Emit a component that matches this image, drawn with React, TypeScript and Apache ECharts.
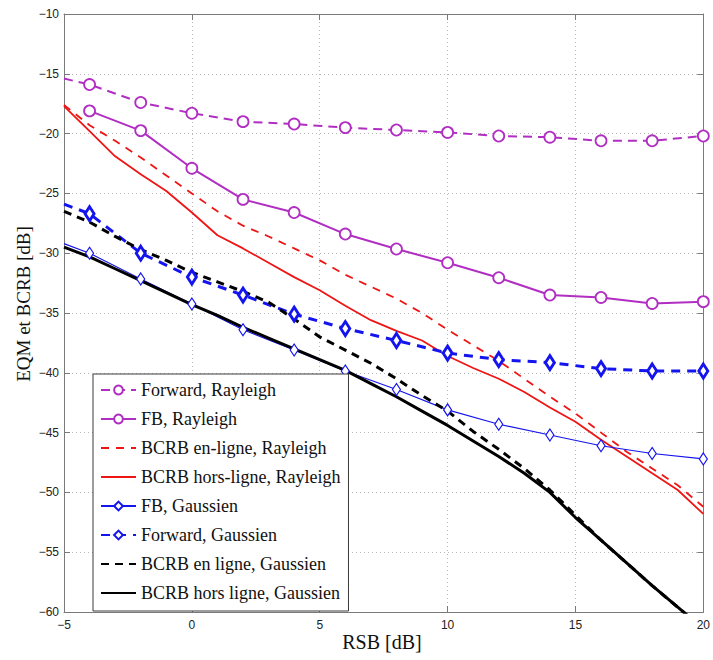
import React, { useEffect, useRef } from "react";
import * as echarts from "echarts";

// ---- data ----
const SNR_FULL = [-5, -4, -3, -2, -1, 0, 1, 2, 3, 4, 5, 6, 7, 8, 9, 10, 11, 12, 13, 14, 15, 16, 17, 18, 19, 20];
const SNR_MARK = [-5, -4, -2, 0, 2, 4, 6, 8, 10, 12, 14, 16, 18, 20];
const SNR_EVEN = [-4, -2, 0, 2, 4, 6, 8, 10, 12, 14, 16, 18, 20];

const forwardRayleigh = [-15.4, -15.9, -17.4, -18.3, -19.0, -19.2, -19.5, -19.7, -19.9, -20.2, -20.3, -20.6, -20.6, -20.2];
const fbRayleigh = [-18.1, -19.75, -22.9, -25.5, -26.6, -28.4, -29.65, -30.8, -32.05, -33.5, -33.7, -34.2, -34.05];
const bcrbEnLigneRayleigh = [-17.6, -19.3, -20.6, -22.0, -23.5, -25.0, -26.5, -27.7, -28.6, -29.6, -30.6, -31.8, -32.8, -33.8, -35.0, -36.4, -37.7, -39.0, -40.5, -42.0, -43.4, -45.0, -46.6, -48.0, -49.4, -51.2];
const bcrbHorsLigneRayleigh = [-17.7, -19.8, -21.9, -23.4, -24.8, -26.6, -28.5, -29.6, -30.8, -32.0, -33.1, -34.4, -35.6, -36.5, -37.3, -38.6, -39.6, -40.5, -41.6, -42.9, -44.1, -45.6, -47.0, -48.4, -49.8, -51.8];
const fbGaussien = [-29.2, -30.0, -32.15, -34.25, -36.4, -38.1, -39.85, -41.4, -43.1, -44.3, -45.2, -46.1, -46.75, -47.2];
const forwardGaussien = [-25.9, -26.7, -30.0, -32.0, -33.5, -35.1, -36.3, -37.3, -38.35, -38.9, -39.15, -39.65, -39.85, -39.85];
const bcrbEnLigneGaussien = [-26.5, -27.4, -28.6, -29.7, -30.6, -31.6, -32.4, -33.2, -34.1, -35.5, -37.0, -38.1, -39.2, -40.5, -41.9, -43.2, -44.9, -46.4, -48.0, -49.8, -51.9, -54.0, -55.9, -57.8, -59.6, -61.4];
const bcrbHorsLigneGaussien = [-29.5, -30.3, -31.3, -32.3, -33.3, -34.3, -35.2, -36.2, -37.1, -38.0, -38.9, -39.8, -40.9, -42.0, -43.2, -44.4, -45.7, -47.0, -48.4, -50.0, -52.1, -54.0, -55.9, -57.8, -59.6, -61.4];

const SERIES_NAMES = [
  "Forward, Rayleigh",
  "FB, Rayleigh",
  "BCRB en-ligne, Rayleigh",
  "BCRB hors-ligne, Rayleigh",
  "FB, Gaussien",
  "Forward, Gaussien",
  "BCRB en ligne, Gaussien",
  "BCRB hors ligne, Gaussien",
];
const NO_MARKER = [false, false, true, true, false, false, true, true];

const X_NAME = "RSB [dB]";
const Y_NAME = "EQM et BCRB [dB]";

const MAGENTA = "#b12ec2";
const RED = "#ee1515";
const BLUE = "#1414ee";
const BLACK = "#000000";

const SERIF = "Liberation Serif";
const SANS = "Liberation Sans";

function pairs(xs: number[], ys: number[], firstNoSymbol = false) {
  return ys.map((y, i) => {
    if (firstNoSymbol && i === 0) return { value: [xs[i], y], symbol: "none" };
    return { value: [xs[i], y] };
  });
}

function minusFmt(v: number) {
  return String(v).replace("-", "\u2212");
}

export default function App() {
  const ref = useRef<HTMLDivElement>(null);

  useEffect(() => {
    if (!ref.current) return;
    const chart = echarts.init(ref.current, undefined, { renderer: "svg" });

    const axisLine = { show: true, onZero: false, lineStyle: { color: "#7a7a7a", width: 1 } };
    const tickInside = { show: true, inside: true, length: 6, lineStyle: { color: "#7a7a7a" } };
    const gridLine = { show: true, lineStyle: { color: "#b8b8b8", type: [1, 3], width: 1 } };

    const option: any = {
      animation: false,
      backgroundColor: "#fff",
      grid: { left: 64, right: 8, top: 14, bottom: 48, containLabel: false },
      xAxis: [
        {
          type: "value",
          min: -5,
          max: 20,
          interval: 5,
          position: "bottom",
          axisLine,
          axisTick: tickInside,
          splitLine: gridLine,
          axisLabel: { formatter: minusFmt, fontFamily: SANS, fontSize: 12, color: "#222", margin: 7 },
        },
        {
          type: "value",
          min: -5,
          max: 20,
          interval: 5,
          position: "top",
          axisLine,
          axisTick: tickInside,
          splitLine: { show: false },
          axisLabel: { show: false },
        },
      ],
      yAxis: [
        {
          type: "value",
          min: -60,
          max: -10,
          interval: 5,
          position: "left",
          axisLine,
          axisTick: tickInside,
          splitLine: gridLine,
          axisLabel: { formatter: minusFmt, fontFamily: SANS, fontSize: 12, color: "#222", margin: 5 },
        },
        {
          type: "value",
          min: -60,
          max: -10,
          interval: 5,
          position: "right",
          axisLine,
          axisTick: tickInside,
          splitLine: { show: false },
          axisLabel: { show: false },
        },
      ],
      legend: {
        orient: "vertical",
        left: 93,
        top: 374,
        padding: [7, 8, 9, 7],
        itemWidth: 35,
        itemHeight: 11,
        itemGap: 11,
        backgroundColor: "#ffffff",
        borderColor: "#3a3a3a",
        borderWidth: 1,
        borderRadius: 0,
        textStyle: { fontFamily: SERIF, fontSize: 18, lineHeight: 18, color: "#111" },
        data: SERIES_NAMES.map((name, i) =>
          NO_MARKER[i]
            ? { name, itemStyle: { color: "rgba(0,0,0,0)", borderWidth: 0, opacity: 0 } }
            : { name }
        ),
        z: 10,
      },
      graphic: [
        {
          type: "text",
          x: 23,
          y: 304,
          rotation: Math.PI / 2,
          style: {
            text: Y_NAME,
            fontFamily: SERIF,
            fontSize: 19,
            fill: "#111",
            align: "center",
            verticalAlign: "middle",
          },
        },
        {
          type: "text",
          x: 382,
          y: 642,
          style: {
            text: X_NAME,
            fontFamily: SERIF,
            fontSize: 20,
            fill: "#111",
            align: "center",
            verticalAlign: "middle",
          },
        },
      ],
      series: [
        {
          name: SERIES_NAMES[0],
          type: "line",
          data: pairs(SNR_MARK, forwardRayleigh, true),
          symbol: "circle",
          symbolSize: 11,
          showAllSymbol: true,
          lineStyle: { color: MAGENTA, width: 2, type: [9, 6] },
          itemStyle: { color: "#fff", borderColor: MAGENTA, borderWidth: 1.8 },
          emphasis: { disabled: true },
          z: 2,
        },
        {
          name: SERIES_NAMES[1],
          type: "line",
          data: pairs(SNR_EVEN, fbRayleigh),
          symbol: "circle",
          symbolSize: 11,
          showAllSymbol: true,
          lineStyle: { color: MAGENTA, width: 2, type: "solid" },
          itemStyle: { color: "#fff", borderColor: MAGENTA, borderWidth: 1.8 },
          emphasis: { disabled: true },
          z: 2,
        },
        {
          name: SERIES_NAMES[2],
          type: "line",
          data: pairs(SNR_FULL, bcrbEnLigneRayleigh),
          symbol: "none",
          lineStyle: { color: RED, width: 1.8, type: [8, 7] },
          itemStyle: { color: RED },
          emphasis: { disabled: true },
          z: 2,
        },
        {
          name: SERIES_NAMES[3],
          type: "line",
          data: pairs(SNR_FULL, bcrbHorsLigneRayleigh),
          symbol: "none",
          lineStyle: { color: RED, width: 1.8, type: "solid" },
          itemStyle: { color: RED },
          emphasis: { disabled: true },
          z: 2,
        },
        {
          name: SERIES_NAMES[4],
          type: "line",
          data: pairs(SNR_MARK, fbGaussien, true),
          symbol: "diamond",
          symbolSize: [8, 12],
          showAllSymbol: true,
          lineStyle: { color: BLUE, width: 1.1, type: "solid" },
          itemStyle: { color: "#fff", borderColor: BLUE, borderWidth: 1.2 },
          emphasis: { disabled: true },
          z: 2,
        },
        {
          name: SERIES_NAMES[5],
          type: "line",
          data: pairs(SNR_MARK, forwardGaussien, true),
          symbol: "diamond",
          symbolSize: [9, 14],
          showAllSymbol: true,
          lineStyle: { color: BLUE, width: 3, type: [9, 7] },
          itemStyle: { color: "#fff", borderColor: BLUE, borderWidth: 3 },
          emphasis: { disabled: true },
          z: 2,
        },
        {
          name: SERIES_NAMES[6],
          type: "line",
          data: pairs(SNR_FULL, bcrbEnLigneGaussien),
          symbol: "none",
          lineStyle: { color: BLACK, width: 3, type: [8, 6] },
          itemStyle: { color: BLACK },
          emphasis: { disabled: true },
          z: 2,
        },
        {
          name: SERIES_NAMES[7],
          type: "line",
          data: pairs(SNR_FULL, bcrbHorsLigneGaussien),
          symbol: "none",
          lineStyle: { color: BLACK, width: 3, type: "solid" },
          itemStyle: { color: BLACK },
          emphasis: { disabled: true },
          z: 2,
        },
      ],
    };

    chart.setOption(option);
    return () => chart.dispose();
  }, []);

  return (
    <div
      ref={ref}
      style={{ position: "fixed", left: 0, top: 0, width: 713, height: 660, background: "#fff" }}
    />
  );
}
